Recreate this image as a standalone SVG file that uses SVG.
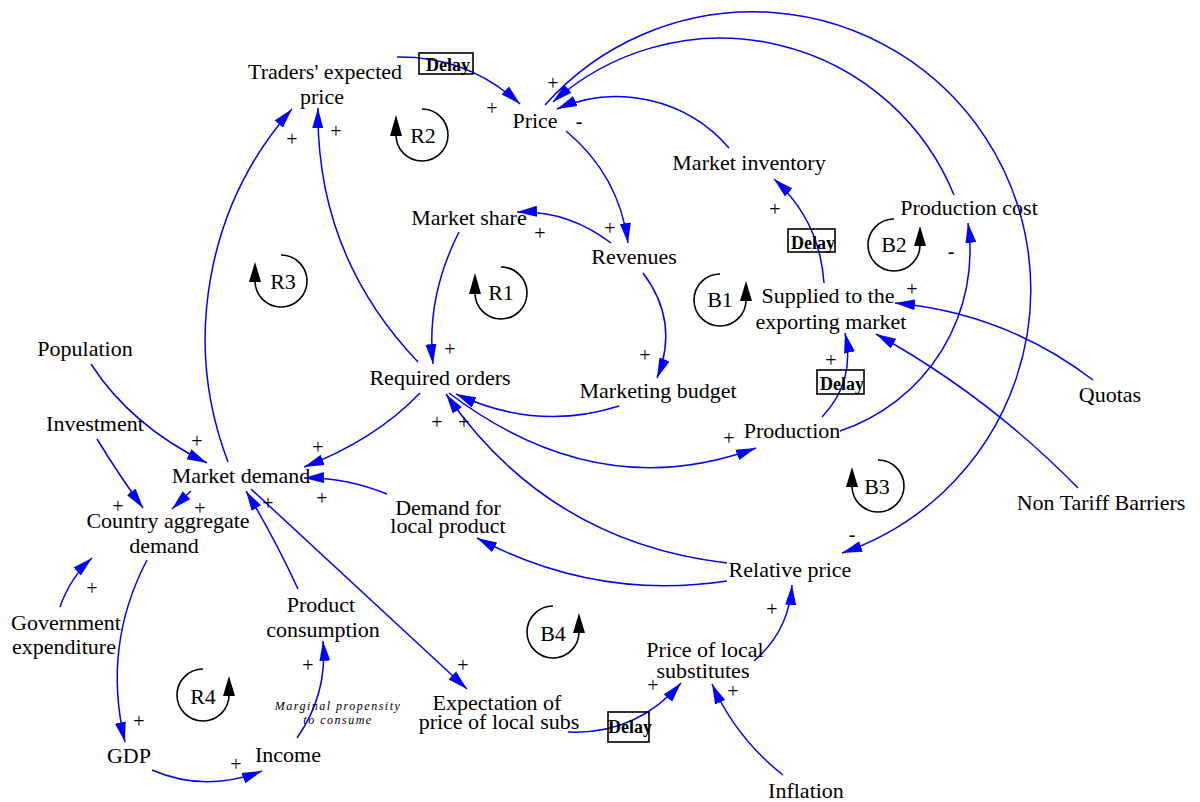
<svg xmlns="http://www.w3.org/2000/svg" width="1200" height="802" viewBox="0 0 1200 802">
<style>
.t{font-family:"Liberation Serif","Times New Roman",serif;font-size:22px;fill:#000;text-anchor:middle}
.s{font-family:"Liberation Serif","Times New Roman",serif;font-size:20px;fill:#000;text-anchor:middle}
.d{font-family:"Liberation Serif","Times New Roman",serif;font-size:18px;font-weight:bold;fill:#000}
.m{font-family:"Liberation Serif","Times New Roman",serif;font-size:12px;font-style:italic;letter-spacing:1.5px;fill:#000;text-anchor:middle}
.c path{fill:none;stroke:#0000ff;stroke-width:1.5;marker-end:url(#ah)}
.loop path{fill:none;stroke:#000;stroke-width:1.6}
.loop polygon{fill:#000}
.box{fill:none;stroke:#000;stroke-width:1.6}
</style>
<defs>
<marker id="ah" markerUnits="userSpaceOnUse" markerWidth="20" markerHeight="12" refX="20" refY="6" orient="auto">
<path d="M0,0.5 L20,6 L0,11.5 z" fill="#0000ff"/>
</marker>
</defs>
<rect width="1200" height="802" fill="#fff"/>
<g id="connectors" class="c">
<path d="M397,57 Q468,56 520,104"/>
<path d="M566,131 Q619,175 628,243"/>
<path d="M611,243 Q568,210 517,212"/>
<path d="M643,273 Q680,322 657,378"/>
<path d="M459,232 Q426,297 433,364"/>
<path d="M619,406 Q538,432 456,394"/>
<path d="M727,563 Q548,542 446,394"/>
<path d="M449,393 Q598,506 756,448"/>
<path d="M420,393 Q375,440 304,467"/>
<path d="M418,362 Q316,255 318,108"/>
<path d="M228,462 A347,347 0 0 1 292,109"/>
<path d="M91,364 Q131,426 207,463"/>
<path d="M97,439 Q119,475 143,508"/>
<path d="M191,491 L172,509"/>
<path d="M60,607 Q70,578 92,558"/>
<path d="M147,560 Q102,646 125,742"/>
<path d="M152,770 Q205,793 262,771"/>
<path d="M297,738 Q328,694 323,641"/>
<path d="M298,589 Q274,537 246,491"/>
<path d="M251,489 L467,689"/>
<path d="M568,732 Q636,735 681,683"/>
<path d="M783,775 Q736,738 712,684"/>
<path d="M754,661 Q789,631 792,585"/>
<path d="M727,581 Q596,601 477,538"/>
<path d="M387,494 Q345,477 304,478"/>
<path d="M824,283 Q820,221 774,179"/>
<path d="M822,417 Q856,381 845,333"/>
<path d="M840,431 A190,190 0 0 0 968,223"/>
<path d="M1093,380 Q1005,313 895,303"/>
<path d="M1078,488 Q988,396 876,334"/>
<path d="M545,105 A278,278 0 1 1 842,553"/>
<path d="M954,195 A252,252 0 0 0 553,102"/>
<path d="M729,148 A149,149 0 0 0 557,109"/>
</g>
<g id="polarities" class="s">
<text x="492" y="115">+</text>
<text x="553" y="90">+</text>
<text x="579" y="128">-</text>
<text x="610" y="235">+</text>
<text x="540" y="240">+</text>
<text x="645" y="362">+</text>
<text x="450" y="356">+</text>
<text x="437" y="429">+</text>
<text x="464" y="429">+</text>
<text x="729" y="445">+</text>
<text x="318" y="454">+</text>
<text x="336" y="138">+</text>
<text x="292" y="146">+</text>
<text x="197" y="448">+</text>
<text x="118" y="513">+</text>
<text x="200" y="515">+</text>
<text x="92" y="595">+</text>
<text x="139" y="728">+</text>
<text x="236" y="771">+</text>
<text x="308" y="672">+</text>
<text x="268" y="510">+</text>
<text x="463" y="672">+</text>
<text x="653" y="692">+</text>
<text x="733" y="698">+</text>
<text x="772" y="616">+</text>
<text x="322" y="505">+</text>
<text x="775" y="216">+</text>
<text x="831" y="367">+</text>
<text x="912" y="296">+</text>
<text x="951" y="258">-</text>
<text x="852" y="541">-</text>
</g>
<g id="delays">
<rect class="box" x="419" y="53" width="54" height="21"/><text class="d" x="426" y="71">Delay</text>
<rect class="box" x="788" y="229" width="47" height="23"/><text class="d" x="791" y="249">Delay</text>
<rect class="box" x="817" y="370" width="47" height="24"/><text class="d" x="820" y="390">Delay</text>
<rect class="box" x="608" y="712" width="41" height="30"/><text class="d" x="608" y="733">Delay</text>
</g>
<g id="loops" class="loop">
<g id="loop-R2"><path d="M422,109 A26,26 0 1 1 396,135"/><polygon points="390,136 402,136 396,115"/><text class="t" x="423" y="143">R2</text></g>
<g id="loop-R3"><path d="M281,255 A26,26 0 1 1 255,281"/><polygon points="249,282 261,282 255,262"/><text class="t" x="283" y="289">R3</text></g>
<g id="loop-R1"><path d="M501,267 A26,26 0 1 1 475,293"/><polygon points="469,294 481,294 475,273"/><text class="t" x="501" y="300">R1</text></g>
<g id="loop-B3"><path d="M878,460 A26,26 0 1 1 852,486"/><polygon points="846,487 858,487 852,467"/><text class="t" x="877" y="494">B3</text></g>
<g id="loop-B1"><path d="M720,274 A26,26 0 1 0 746,300"/><polygon points="740,301 752,301 746,281"/><text class="t" x="720" y="307">B1</text></g>
<g id="loop-B2"><path d="M894,219 A26,26 0 1 0 920,245"/><polygon points="914,246 926,246 920,226"/><text class="t" x="894" y="252">B2</text></g>
<g id="loop-B4"><path d="M553,606 A26,26 0 1 0 579,632"/><polygon points="573,633 585,633 579,613"/><text class="t" x="553" y="641">B4</text></g>
<g id="loop-R4"><path d="M203,669 A26,26 0 1 0 229,695"/><polygon points="223,696 235,696 229,676"/><text class="t" x="203" y="704">R4</text></g>
</g>
<g id="n-traders"><text class="t" x="325" y="79">Traders' expected</text><text class="t" x="322" y="104">price</text></g>
<g id="n-price"><text class="t" x="535" y="128">Price</text></g>
<g id="n-inventory"><text class="t" x="749" y="170">Market inventory</text></g>
<g id="n-prodcost"><text class="t" x="969" y="215">Production cost</text></g>
<g id="n-share"><text class="t" x="469" y="225">Market share</text></g>
<g id="n-revenues"><text class="t" x="634" y="264">Revenues</text></g>
<g id="n-supplied"><text class="t" x="828" y="303">Supplied to the</text><text class="t" x="831" y="329">exporting market</text></g>
<g id="n-population"><text class="t" x="85" y="356">Population</text></g>
<g id="n-orders"><text class="t" x="440" y="385">Required orders</text></g>
<g id="n-marketing"><text class="t" x="658" y="398">Marketing budget</text></g>
<g id="n-quotas"><text class="t" x="1110" y="402">Quotas</text></g>
<g id="n-investment"><text class="t" x="95" y="431">Investment</text></g>
<g id="n-production"><text class="t" x="792" y="438">Production</text></g>
<g id="n-mdemand"><text class="t" x="241" y="483">Market demand</text></g>
<g id="n-cad"><text class="t" x="168" y="528">Country aggregate</text><text class="t" x="164" y="553">demand</text></g>
<g id="n-dlocal"><text class="t" x="448" y="515">Demand for</text><text class="t" x="448" y="533">local product</text></g>
<g id="n-ntb"><text class="t" x="1101" y="510">Non Tariff Barriers</text></g>
<g id="n-relprice"><text class="t" x="790" y="577">Relative price</text></g>
<g id="n-gov"><text class="t" x="66" y="630">Government</text><text class="t" x="64" y="654">expenditure</text></g>
<g id="n-consumption"><text class="t" x="321" y="612">Product</text><text class="t" x="323" y="637">consumption</text></g>
<g id="n-plocal"><text class="t" x="705" y="657">Price of local</text><text class="t" x="703" y="678">substitutes</text></g>
<g id="n-expect"><text class="t" x="497" y="710">Expectation of</text><text class="t" x="499" y="729">price of local subs</text></g>
<g id="n-gdp"><text class="t" x="129" y="763">GDP</text></g>
<g id="n-income"><text class="t" x="288" y="762">Income</text></g>
<g id="n-inflation"><text class="t" x="806" y="798">Inflation</text></g>
<g id="lbl-mpc"><text class="m" x="338" y="710">Marginal propensity</text><text class="m" x="338" y="724">to consume</text></g>
</svg>
